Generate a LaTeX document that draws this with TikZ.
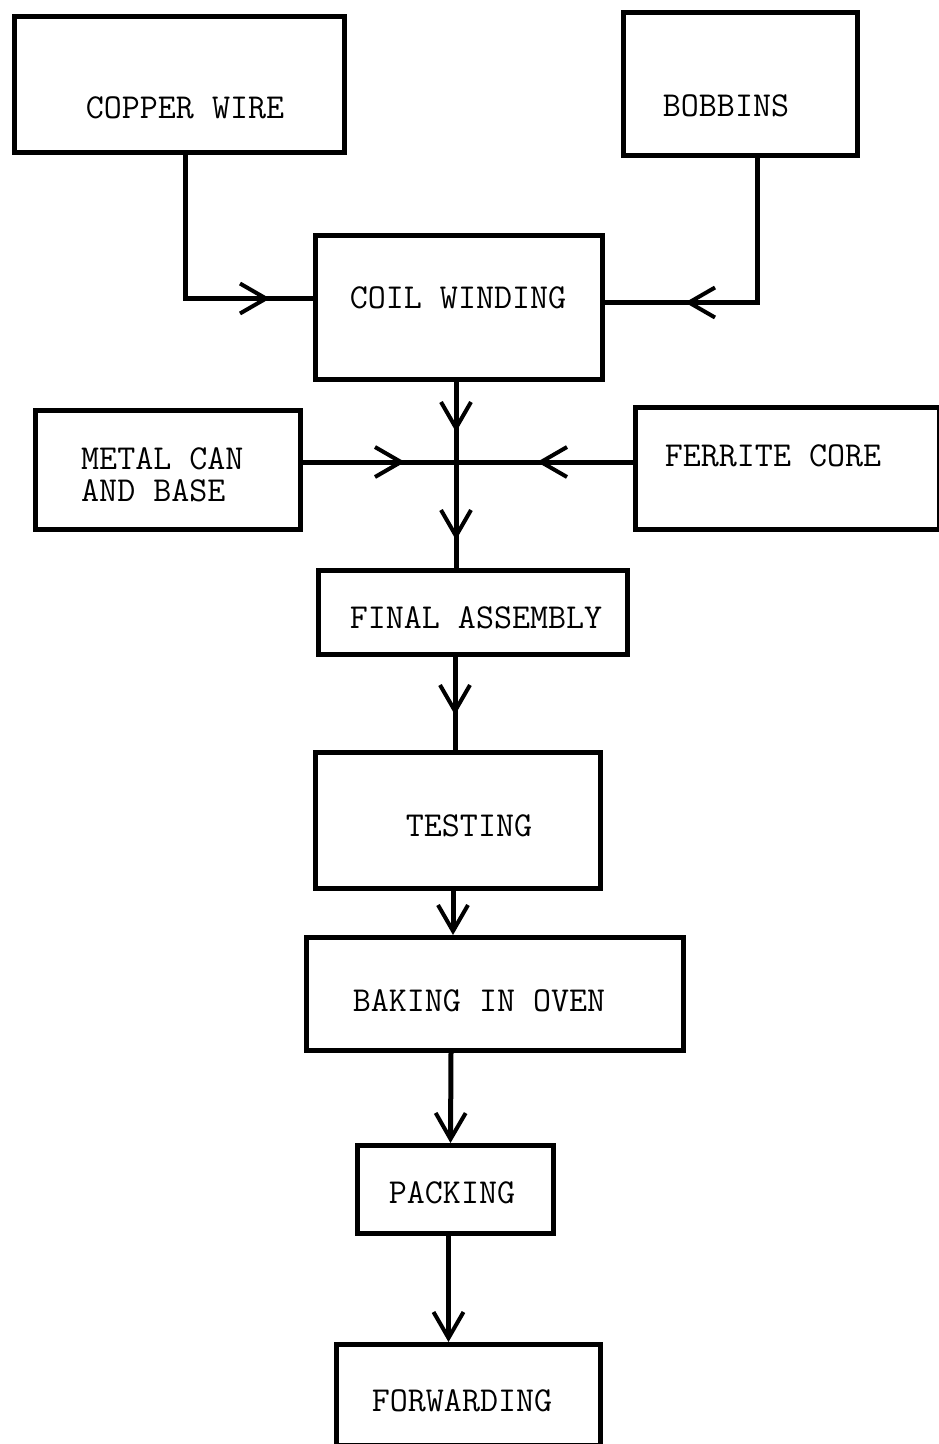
\documentclass[tikz,border=0pt]{standalone}
\usepackage{fontspec}
\usetikzlibrary{arrows.meta,decorations.markings}
\tikzset{
  vbarb/.tip={Straight Barb[length=26pt,width=30pt,line width=4pt]},
  box/.style={draw, line width=5pt, inner sep=0pt, anchor=north west, rectangle},
  lbl/.style={font=\ttfamily\fontsize{35}{32}\selectfont, inner sep=0pt},
  conn/.style={line width=5pt},
  midarrow/.style={postaction={decorate}, decoration={markings, mark=at position #1 with {\arrow{vbarb}}}}
}
\begin{document}
\begin{tikzpicture}[x=1pt,y=-1pt]
\useasboundingbox (0,0) rectangle (939,1444);
% boxes
\node[box, minimum width=330pt, minimum height=136pt] (cw) at (12,14) {};
\node[box, minimum width=234pt, minimum height=143pt] (bb) at (621,10) {};
\node[box, minimum width=287pt, minimum height=144pt] (coil) at (313,233) {};
\node[box, minimum width=265pt, minimum height=119pt] (metal) at (33,408) {};
\node[box, minimum width=304pt, minimum height=122pt] (ferr) at (633,405) {};
\node[box, minimum width=309pt, minimum height=84pt] (fa) at (316,568) {};
\node[box, minimum width=285pt, minimum height=136pt] (test) at (313,750) {};
\node[box, minimum width=377pt, minimum height=113pt] (bake) at (304,935) {};
\node[box, minimum width=196pt, minimum height=88pt] (pack) at (355,1143) {};
\node[box, minimum width=264pt, minimum height=101pt] (fwd) at (334,1342) {};
% labels
\node[lbl] (tcw) at (185,108) {COPPER WIRE};
\node[lbl] (tbb) at (726,106) {BOBBINS};
\node[lbl] (tcoil) at (458,298) {COIL WINDING};
\node[lbl, anchor=west, align=left] (tmetal) at (81,475) {METAL CAN\\AND BASE};
\node[lbl] (tferr) at (773,456) {FERRITE CORE};
\node[lbl] (tfa) at (476,618) {FINAL ASSEMBLY};
\node[lbl] (ttest) at (469,826) {TESTING};
\node[lbl] (tbake) at (479,1001) {BAKING IN OVEN};
\node[lbl] (tpack) at (452,1193) {PACKING};
\node[lbl] (tfwd) at (462,1401) {FORWARDING};
% connectors
\coordinate (j) at (456,462);
\draw[conn, midarrow=-43pt] ([xshift=6pt]cw.south) |- ([yshift=9pt]coil.west);
\draw[conn, midarrow=-80pt] ([xshift=17pt]bb.south) |- ([yshift=5pt]coil.east);
\draw[conn, midarrow=50pt] (coil.south -| j) -- (j);
\draw[conn, midarrow=-28pt] (j) -- (fa.north -| j);
\draw[conn, midarrow=102pt] (metal.east |- j) -- (j);
\draw[conn, midarrow=96pt] (ferr.west |- j) -- (j);
\draw[conn, midarrow=58pt] ([xshift=-18pt]fa.south) -- ([xshift=-3pt]test.north);
\draw[conn, -{vbarb}] ([xshift=-5pt]test.south) -- ([xshift=-42pt]bake.north);
\draw[conn, -{vbarb}] ([xshift=-44pt]bake.south) -- ([xshift=-5pt]pack.north);
\draw[conn, -{vbarb}] ([xshift=-7pt]pack.south) -- ([xshift=-20pt]fwd.north);
\end{tikzpicture}
\end{document}
